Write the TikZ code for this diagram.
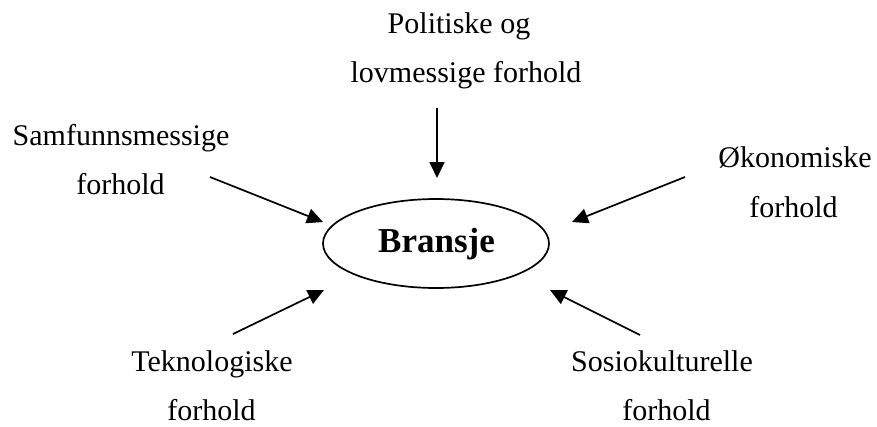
\documentclass[tikz,border=0pt]{standalone}
\usepackage{fontspec}
\setmainfont{Liberation Serif}
\usetikzlibrary{shapes.geometric,arrows.meta}
\begin{document}
\begin{tikzpicture}[x=1pt,y=-1pt,
  lbl/.style={anchor=base,inner sep=0pt,font=\fontsize{30}{36}\selectfont},
  force/.style={line width=1.7pt,-{Triangle[length=16pt,width=15pt]}}]
\useasboundingbox (0,0) rectangle (877,426);
% central ellipse
\node[ellipse,draw,line width=1.7pt,minimum width=226pt,minimum height=89pt,inner sep=0pt] (br) at (436,243.5) {};
\node[anchor=base,inner sep=0pt,font=\fontsize{35}{40}\selectfont\bfseries] (brtxt) at (436.5,252) {Bransje};
% labels
\node[lbl] (pol1) at (459,33) {Politiske og};
\node[lbl] (pol2) at (466,82) {lovmessige forhold};
\node[lbl] (sam1) at (121,145) {Samfunnsmessige};
\node[lbl] (sam2) at (120.5,194) {forhold};
\node[lbl] (oko1) at (795,167) {Økonomiske};
\node[lbl] (oko2) at (793.5,217) {forhold};
\node[lbl] (tek1) at (212,371) {Teknologiske};
\node[lbl] (tek2) at (211.5,420) {forhold};
\node[lbl] (sos1) at (662,371) {Sosiokulturelle};
\node[lbl] (sos2) at (666.5,420) {forhold};
% arrow tails and tips
\coordinate (polA) at (437,108);  \coordinate (polB) at (437,178);
\coordinate (samA) at (210,177);  \coordinate (samB) at (323,222);
\coordinate (okoA) at (685,177);  \coordinate (okoB) at (572,222);
\coordinate (tekA) at (233,334);  \coordinate (tekB) at (324,290);
\coordinate (sosA) at (640,335);  \coordinate (sosB) at (550,290);
\draw[force] (polA) -- (polB);
\draw[force] (samA) -- (samB);
\draw[force] (okoA) -- (okoB);
\draw[force] (tekA) -- (tekB);
\draw[force] (sosA) -- (sosB);
\end{tikzpicture}
\end{document}
